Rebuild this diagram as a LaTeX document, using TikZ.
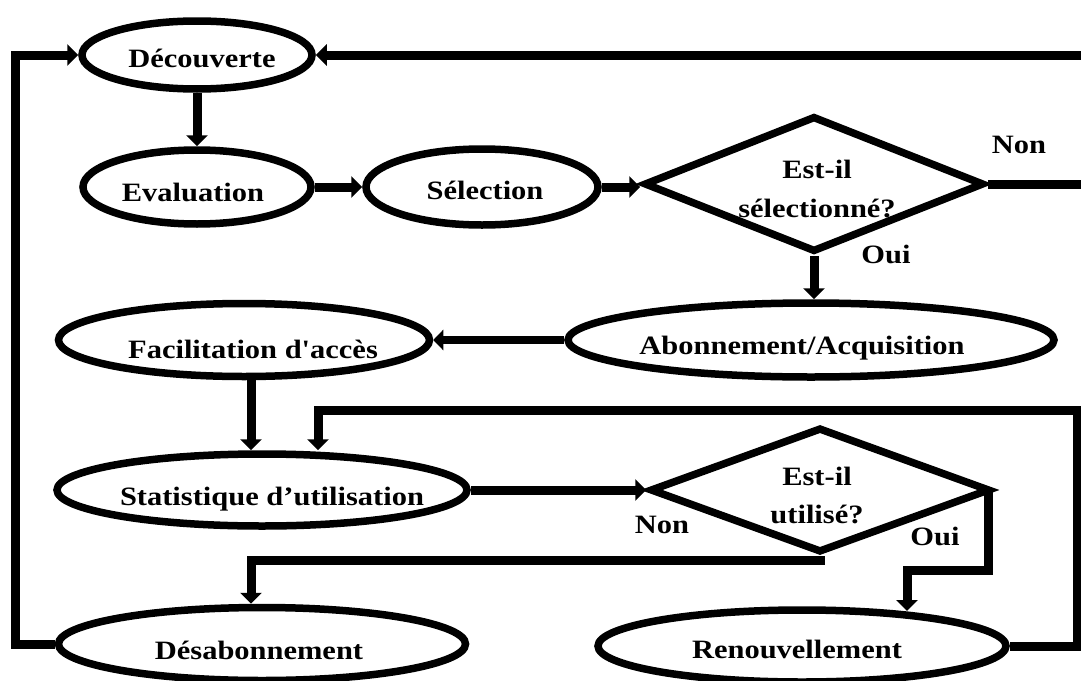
\documentclass[tikz,border=0pt]{standalone}
\usepackage{fontspec}
\setmainfont{Liberation Serif}
\usetikzlibrary{shapes.geometric,arrows.meta}
\newcommand{\wtxt}[1]{\scalebox{1.15}[1]{#1}}

\begin{document}
\begin{tikzpicture}[x=1pt,y=-1pt]
\tikzset{
  oval/.style={ellipse, draw, line width=7.5pt, inner sep=0pt},
  choice/.style={diamond, draw, line width=7.5pt, inner sep=0pt},
  lbl/.style={font=\bfseries\fontsize{26.5}{30}\selectfont, anchor=base, inner sep=0pt},
  flow/.style={line width=9pt, -{Triangle[width=21pt,length=11pt]}},
  thinflow/.style={line width=8pt, -{Triangle[width=20pt,length=10pt]}},
}
\fill[white] (0,0) rectangle (1081,680);
\useasboundingbox (0,0) rectangle (1081,680);

% process ovals
\node[oval, minimum width=230pt, minimum height=68pt] (dec)  at (197,55)  {};
\node[oval, minimum width=228pt, minimum height=74pt] (eval) at (197,187) {};
\node[oval, minimum width=232pt, minimum height=76pt] (sel)  at (482,187) {};
\node[oval, minimum width=486pt, minimum height=74pt] (abo)  at (811,340) {};
\node[oval, minimum width=371pt, minimum height=73pt] (fac)  at (244,340) {};
\node[oval, minimum width=410pt, minimum height=72pt] (stat) at (262,490) {};
\node[oval, minimum width=407pt, minimum height=73pt] (des)  at (262,644) {};
\node[oval, minimum width=408pt, minimum height=72pt] (ren)  at (802,646) {};

% decisions
\node[choice, minimum width=340pt, minimum height=136pt] (d1) at (814,184) {};
\node[choice, minimum width=340pt, minimum height=125pt] (d2) at (820,490) {};

% texts
\node[lbl] (tdec)  at (202,67)  {\wtxt{Découverte}};
\node[lbl] (teval) at (193,201) {\wtxt{Evaluation}};
\node[lbl] (tsel)  at (485,199) {\wtxt{Sélection}};
\node[lbl] (tabo)  at (802,354) {\wtxt{Abonnement/Acquisition}};
\node[lbl] (tfac)  at (253,358) {\wtxt{Facilitation d\textquotesingle accès}};
\node[lbl] (tstat) at (272,505) {\wtxt{Statistique d’utilisation}};
\node[lbl] (tdes)  at (259,659) {\wtxt{Désabonnement}};
\node[lbl] (tren)  at (797,658) {\wtxt{Renouvellement}};
\node[lbl] (td1a)  at (817,178) {\wtxt{Est-il}};
\node[lbl] (td1b)  at (817,217) {\wtxt{sélectionné?}};
\node[lbl] (td2a)  at (817,485) {\wtxt{Est-il}};
\node[lbl] (td2b)  at (817,523) {\wtxt{utilisé?}};
\node[lbl] (non1)  at (1019,153) {\wtxt{Non}};
\node[lbl] (oui1)  at (886,263) {\wtxt{Oui}};
\node[lbl] (non2)  at (662,533) {\wtxt{Non}};
\node[lbl] (oui2)  at (935,545) {\wtxt{Oui}};

% bend points
\coordinate (rightout) at (1095,188);
\coordinate (nonturn) at (251,560);
\coordinate (ouidown) at (995,570);
\coordinate (ouiturn) at (907,570);
\coordinate (renin)   at (907,611);
\coordinate (loopr)   at (1077,410);
\coordinate (loopl)   at (318,410);
\coordinate (leftx)   at (15,648);

% connectors
\draw[flow] (dec.south) -- (eval.north);
\draw[flow] (eval.east) -- (eval.east -| sel.west);
\draw[flow] (sel.east) -- (sel.east -| d1.west);
\draw[flow] (d1.east) -- (d1.east -| rightout) |- (dec.east);
\draw[flow] (d1.south) -- (d1.south |- abo.north);
\draw[thinflow] (abo.west) -- (fac.east);
\draw[flow] ([xshift=7pt]fac.south) -- ([xshift=7pt]fac.south |- stat.north);
\draw[flow] (stat.east) -- (d2.west);
\draw[flow] (d2.south) |- (nonturn) -- (nonturn |- des.north);
\draw[flow] ([xshift=-5pt]d2.east) -- ([xshift=-5pt]d2.east |- ouidown) -- (ouiturn) -- (renin);
\draw[flow] (ren.east) -| (loopr) -- (loopl) -- (loopl |- stat.north);
\draw[flow] (des.west) -- (des.west -| leftx) |- (dec.west);
\end{tikzpicture}
\end{document}
